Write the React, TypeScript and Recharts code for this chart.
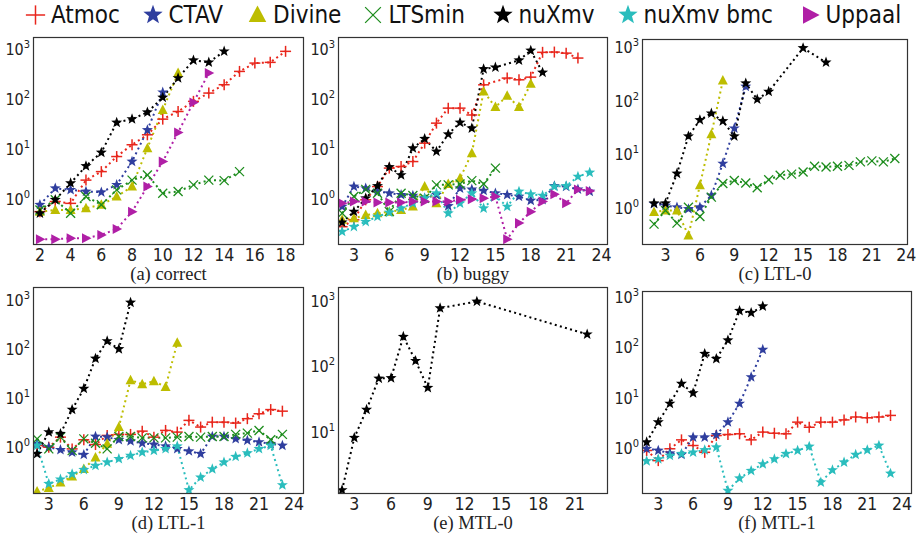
import React from "react";
import { Line, LineChart, XAxis, YAxis } from "recharts";

type Pt = [number, number];

// (a) correct
const correctAtmoc: Pt[] = [[2, 0.54], [3, 0.86], [4, 0.79], [5, 2.3], [6, 3.4], [7, 6.8], [8, 11.7], [9, 18.5], [10, 38], [11, 54], [12, 86], [13, 126], [14, 185], [15, 341], [16, 500], [17, 517], [18, 858]];
const correctCtav: Pt[] = [[2, 0.74], [3, 1.58], [4, 1.47], [5, 1.36], [6, 1.32], [7, 1.85], [8, 5.4], [9, 23], [10, 130]];
const correctDivine: Pt[] = [[2, 0.54], [3, 0.58], [4, 0.58], [5, 0.63], [6, 0.74], [7, 1.08], [8, 1.71], [9, 10], [10, 58], [11, 316]];
const correctLtsmin: Pt[] = [[2, 0.58], [3, 0.93], [4, 0.5], [5, 1.08], [6, 0.74], [7, 1.47], [8, 2.3], [9, 2.9], [10, 1.26], [11, 1.36], [12, 1.85], [13, 2.3], [14, 2.25], [15, 3.4]];
const correctNuxmv: Pt[] = [[2, 0.5], [3, 0.93], [4, 2.0], [5, 4.4], [6, 8.2], [7, 32.5], [8, 38], [9, 52], [10, 103], [11, 251], [12, 570], [13, 517], [14, 858]];
const correctUppaal: Pt[] = [[2, 0.152], [3, 0.152], [4, 0.159], [5, 0.159], [6, 0.185], [7, 0.244], [8, 0.54], [9, 1.71], [10, 5.4], [11, 20.6], [12, 82], [13, 316]];

// (b) buggy
const buggyAtmoc: Pt[] = [[2, 0.27], [3, 0.37], [4, 0.93], [5, 1.71], [6, 4.0], [7, 4.3], [8, 5.4], [9, 12.6], [10, 31.6], [11, 63], [12, 63], [13, 46], [14, 184], [16, 251], [17, 232], [18, 262], [19, 820], [20, 830], [21, 790], [22, 630]];
const buggyCtav: Pt[] = [[2, 0.68], [3, 1.71], [4, 1.58], [5, 1.36], [6, 1.26], [7, 1.17], [8, 1.13], [9, 1.0], [10, 1.17], [11, 0.7], [12, 1.58], [13, 1.5], [14, 1.42], [15, 1.26], [16, 1.17], [17, 1.08], [18, 0.9], [19, 0.93], [20, 1.76], [21, 1.71], [22, 1.5], [23, 1.36]];
const buggyDivine: Pt[] = [[2, 0.37], [3, 0.4], [4, 0.46], [5, 0.5], [6, 0.54], [7, 0.58], [8, 0.68], [9, 1.71], [10, 0.79], [11, 1.93], [12, 2.5], [13, 7.9], [14, 136], [15, 66], [16, 111], [17, 66], [18, 193]];
const buggyLtsmin: Pt[] = [[2, 0.5], [3, 1.08], [4, 1.5], [5, 1.26], [6, 0.54], [7, 1.26], [8, 1.13], [9, 1.0], [10, 1.85], [11, 1.85], [12, 1.93], [13, 2.25], [14, 1.93], [15, 4.0]];
const buggyNuxmv: Pt[] = [[2, 0.33], [3, 0.54], [4, 1.0], [5, 1.76], [6, 4.2], [7, 2.9], [8, 10], [9, 15.4], [10, 8.6], [11, 19], [12, 32.5], [13, 25], [14, 380], [15, 410], [17, 570], [18, 890], [19, 325]];
const buggyBmc: Pt[] = [[2, 0.215], [3, 0.27], [4, 0.34], [5, 0.43], [6, 0.52], [7, 0.63], [8, 0.79], [9, 1.0], [10, 1.26], [11, 0.5], [12, 0.79], [13, 1.26], [14, 0.63], [15, 1.1], [16, 0.68], [17, 1.36], [18, 1.2], [19, 1.13], [20, 1.71], [21, 1.76], [22, 2.7], [23, 3.26]];
const buggyUppaal: Pt[] = [[2, 0.79], [3, 0.86], [4, 0.86], [5, 0.82], [6, 0.82], [7, 0.82], [8, 0.86], [9, 0.86], [10, 0.86], [11, 0.86], [12, 0.93], [13, 0.95], [14, 1.0], [15, 1.08], [16, 0.152], [17, 0.32], [18, 0.54], [19, 0.86], [20, 1.2], [21, 0.79], [22, 1.5], [23, 1.4]];

// (c) LTL-0
const ltl0Ctav: Pt[] = [[2, 1.17], [3, 1.09], [4, 1.01], [5, 0.94], [6, 1.01], [7, 1.68], [8, 6.6], [9, 30], [10, 181]];
const ltl0Divine: Pt[] = [[2, 0.82], [3, 0.88], [4, 0.88], [5, 0.3], [6, 2.6], [7, 23.3], [8, 233]];
const ltl0Ltsmin: Pt[] = [[2, 0.49], [3, 0.88], [4, 0.51], [5, 1.01], [6, 0.68], [7, 1.56], [8, 2.8], [9, 3.2], [10, 2.86], [11, 2.34], [12, 3.3], [13, 4.0], [14, 4.2], [15, 4.6], [16, 5.9], [17, 5.7], [18, 5.9], [19, 6.1], [20, 7.1], [21, 7.4], [22, 7.1], [23, 8.2]];
const ltl0Nuxmv: Pt[] = [[2, 1.2], [3, 1.2], [4, 4.3], [5, 21.4], [6, 43], [7, 57], [8, 41], [9, 21.4], [10, 208], [11, 104], [12, 145], [15, 944], [17, 510]];

// (d) LTL-1
const ltl1Atmoc: Pt[] = [[2, 1.03], [3, 0.95], [4, 1.53], [5, 0.88], [6, 1.35], [7, 1.08], [8, 1.66], [9, 1.74], [10, 1.74], [11, 2.03], [12, 1.53], [13, 2.1], [14, 1.94], [15, 3.37], [16, 2.46], [17, 3.1], [18, 3.1], [19, 2.97], [20, 3.65], [21, 4.6], [22, 5.6], [23, 5.2]];
const ltl1Ctav: Pt[] = [[2, 1.12], [3, 0.95], [4, 0.84], [5, 0.75], [6, 0.67], [7, 1.58], [8, 1.53], [9, 1.35], [10, 1.27], [11, 1.15], [12, 1.08], [13, 1.0], [14, 0.88], [15, 0.79], [16, 0.7], [17, 1.58], [18, 1.58], [19, 1.41], [20, 1.31], [21, 1.21], [22, 1.12], [23, 1.03]];
const ltl1Divine: Pt[] = [[2, 0.119], [3, 0.14], [4, 0.18], [5, 0.24], [6, 0.34], [7, 0.59], [8, 1.12], [9, 2.46], [10, 22.4], [11, 18.5], [12, 21.3], [13, 16.3], [14, 130]];
const ltl1Ltsmin: Pt[] = [[2, 1.41], [3, 0.88], [4, 1.53], [5, 0.81], [6, 1.41], [7, 1.15], [8, 0.88], [9, 1.58], [10, 1.58], [11, 1.48], [12, 1.48], [13, 1.48], [14, 1.53], [15, 1.58], [16, 1.53], [17, 1.58], [18, 1.58], [19, 1.74], [20, 1.85], [21, 2.1], [22, 1.35], [23, 1.74]];
const ltl1Nuxmv: Pt[] = [[2, 0.7], [3, 1.94], [4, 1.79], [5, 5.6], [6, 15], [7, 62], [8, 141], [9, 97], [10, 866]];
const ltl1Bmc: Pt[] = [[2, 1.03], [3, 0.17], [4, 0.21], [5, 0.27], [6, 0.33], [7, 0.4], [8, 0.47], [9, 0.55], [10, 0.64], [11, 0.75], [12, 0.81], [13, 0.88], [14, 1.0], [15, 0.127], [16, 0.23], [17, 0.34], [18, 0.47], [19, 0.61], [20, 0.72], [21, 0.88], [22, 1.03], [23, 0.16]];

// (e) MTL-0
const mtl0Nuxmv: Pt[] = [[2, 1.25], [3, 7.9], [4, 21.3], [5, 64], [6, 65], [7, 279], [8, 119], [9, 46], [10, 762], [13, 966], [22, 303]];

// (f) MTL-1
const mtl1Atmoc: Pt[] = [[2, 0.86], [3, 0.54], [4, 0.93], [5, 1.4], [6, 1.08], [7, 0.79], [8, 1.71], [9, 1.79], [10, 1.85], [11, 1.4], [12, 2.0], [13, 1.9], [14, 1.85], [15, 3.16], [16, 2.5], [17, 3.16], [18, 3.16], [19, 3.5], [20, 4.0], [21, 3.86], [22, 4.0], [23, 4.3]];
const mtl1Ctav: Pt[] = [[2, 0.93], [3, 0.86], [4, 0.76], [5, 0.71], [6, 1.58], [7, 1.58], [8, 1.76], [9, 3.16], [10, 7.4], [11, 25], [12, 88]];
const mtl1Nuxmv: Pt[] = [[2, 1.26], [3, 3.16], [4, 7.4], [5, 18.5], [6, 12], [7, 73], [8, 58], [9, 136], [10, 525], [11, 478], [12, 646]];
const mtl1Bmc: Pt[] = [[2, 0.53], [3, 0.58], [4, 0.68], [5, 0.74], [6, 0.79], [7, 0.88], [8, 1.0], [9, 0.136], [10, 0.24], [11, 0.34], [12, 0.46], [13, 0.58], [14, 0.74], [15, 0.86], [16, 1.03], [17, 0.2], [18, 0.35], [19, 0.5], [20, 0.71], [21, 0.88], [22, 1.08], [23, 0.3]];

const ticksEven = [2, 4, 6, 8, 10, 12, 14, 16, 18];
const ticksThree = [3, 6, 9, 12, 15, 18, 21, 24];
const ticksThreeShort = [3, 6, 9, 12, 15, 18, 21];
const decades = [1, 10, 100, 1000];

const SERIES = [
  { name: "Atmoc", color: "#e8261c", marker: "plus" },
  { name: "CTAV", color: "#2f3e9e", marker: "star" },
  { name: "Divine", color: "#bdbd00", marker: "tri" },
  { name: "LTSmin", color: "#1c8c1c", marker: "x" },
  { name: "nuXmv", color: "#000000", marker: "star" },
  { name: "nuXmv bmc", color: "#2abdbd", marker: "star" },
  { name: "Uppaal", color: "#b01fa6", marker: "tright" },
];

const TICK_FONT = "'DejaVu Sans Condensed', 'DejaVu Sans', sans-serif";
const SERIF = "'Liberation Serif', 'DejaVu Serif', serif";

const panels = [
  { caption: "(a) correct", left: 33, top: 37, w: 271, h: 208, x: [1.55, 19.2], xTicks: ticksEven, y: [-0.934, 3.22], capY: 280,
    lines: { Atmoc: correctAtmoc, CTAV: correctCtav, Divine: correctDivine, LTSmin: correctLtsmin, nuXmv: correctNuxmv, Uppaal: correctUppaal } },
  { caption: "(b) buggy", left: 338, top: 37, w: 270, h: 208, x: [1.65, 24.55], xTicks: ticksThree, y: [-0.934, 3.22], capY: 280,
    lines: { Atmoc: buggyAtmoc, CTAV: buggyCtav, Divine: buggyDivine, LTSmin: buggyLtsmin, nuXmv: buggyNuxmv, "nuXmv bmc": buggyBmc, Uppaal: buggyUppaal } },
  { caption: "(c) LTL-0", left: 642, top: 39, w: 266, h: 206, x: [0.95, 24.15], xTicks: ticksThree, y: [-0.7, 3.144], capY: 280,
    lines: { CTAV: ltl0Ctav, Divine: ltl0Divine, LTSmin: ltl0Ltsmin, nuXmv: ltl0Nuxmv } },
  { caption: "(d) LTL-1", left: 33, top: 287, w: 271, h: 207, x: [1.65, 24.85], xTicks: ticksThree, y: [-0.978, 3.255], capY: 529,
    lines: { Atmoc: ltl1Atmoc, CTAV: ltl1Ctav, Divine: ltl1Divine, LTSmin: ltl1Ltsmin, nuXmv: ltl1Nuxmv, "nuXmv bmc": ltl1Bmc } },
  { caption: "(e) MTL-0", left: 338, top: 287, w: 270, h: 207, x: [1.67, 23.7], xTicks: ticksThreeShort, y: [0.037, 3.206], capY: 529,
    lines: { nuXmv: mtl0Nuxmv } },
  { caption: "(f) MTL-1", left: 642, top: 291, w: 270, h: 203, x: [1.6, 24.85], xTicks: ticksThree, y: [-0.933, 3.114], capY: 529,
    lines: { Atmoc: mtl1Atmoc, CTAV: mtl1Ctav, nuXmv: mtl1Nuxmv, "nuXmv bmc": mtl1Bmc } },
];

const starPoints = (cx: number, cy: number, R: number, r: number) => {
  const pts: string[] = [];
  for (let i = 0; i < 10; i++) {
    const a = -Math.PI / 2 + (i * Math.PI) / 5;
    const rad = i % 2 === 0 ? R : r;
    pts.push(`${cx + rad * Math.cos(a)},${cy + rad * Math.sin(a)}`);
  }
  return pts.join(" ");
};

const Marker = ({ kind, cx, cy, color, k = 1 }: any) => {
  if (cx == null || cy == null) return null;
  if (kind === "plus") {
    const a = 5.5 * k;
    return (
      <g stroke={color} strokeWidth={1.5}>
        <line x1={cx - a} y1={cy} x2={cx + a} y2={cy} />
        <line x1={cx} y1={cy - a} x2={cx} y2={cy + a} />
      </g>
    );
  }
  if (kind === "x") {
    const a = 4.5 * k;
    return (
      <g stroke={color} strokeWidth={1.3}>
        <line x1={cx - a} y1={cy - a} x2={cx + a} y2={cy + a} />
        <line x1={cx - a} y1={cy + a} x2={cx + a} y2={cy - a} />
      </g>
    );
  }
  if (kind === "star") return <polygon points={starPoints(cx, cy, 5.8 * k, 2.4 * k)} fill={color} />;
  if (kind === "tri") {
    return <polygon points={`${cx},${cy - 5.5 * k} ${cx - 5 * k},${cy + 4 * k} ${cx + 5 * k},${cy + 4 * k}`} fill={color} />;
  }
  return <polygon points={`${cx + 5.5 * k},${cy} ${cx - 4 * k},${cy - 5 * k} ${cx - 4 * k},${cy + 5 * k}`} fill={color} />;
};

const YTick = ({ y, payload }: any) => {
  const e = Math.round(Math.log10(payload.value));
  return (
    <text x={37} y={y + 6.5} textAnchor="end" fontFamily={TICK_FONT} fontSize={16} fill="#222">
      10<tspan dy={-7} fontSize={11}>{e}</tspan>
    </text>
  );
};

const Panel = ({ p }: any) => {
  const lo = Math.pow(10, p.y[0]);
  const hi = Math.pow(10, p.y[1]);
  const yTicks = decades.filter((t) => t >= lo && t <= hi);
  const xLabelY = 10 + p.h + 16;
  return (
    <div style={{ position: "absolute", left: p.left - 40, top: p.top - 10 }}>
      <LineChart width={p.w + 50} height={p.h + 40} margin={{ top: 10, right: 10, bottom: 0, left: 0 }}>
        <XAxis
          type="number"
          dataKey="x"
          domain={p.x}
          allowDataOverflow
          ticks={p.xTicks}
          axisLine={false}
          tickLine={false}
          height={30}
          tick={({ x, payload }: any) => (
            <text x={x} y={xLabelY} textAnchor="middle" fontFamily={TICK_FONT} fontSize={17.5} fill="#222">
              {payload.value}
            </text>
          )}
        />
        <YAxis
          type="number"
          scale="log"
          domain={[lo, hi]}
          allowDataOverflow
          ticks={yTicks}
          axisLine={false}
          tickLine={false}
          width={40}
          tick={YTick}
        />
        {SERIES.filter((s) => p.lines[s.name]).map((s) => (
          <Line
            key={s.name}
            data={p.lines[s.name].map(([x, y]: Pt) => ({ x, y }))}
            dataKey="y"
            stroke={s.color}
            strokeWidth={2}
            strokeDasharray="2 3.3"
            dot={(d: any) => <Marker key={`${s.name}-${d.index}`} kind={s.marker} cx={d.cx} cy={d.cy} color={s.color} />}
            activeDot={false}
            isAnimationActive={false}
          />
        ))}
      </LineChart>
    </div>
  );
};

const legendMarkerX = [35.5, 153, 257.5, 373, 503, 628, 810];

export default function App() {
  return (
    <div style={{ position: "absolute", left: 0, top: 0, width: 922, height: 540, background: "#fff" }}>
      {panels.map((p) => (
        <Panel key={p.caption} p={p} />
      ))}
      <svg width={922} height={540} style={{ position: "absolute", left: 0, top: 0, pointerEvents: "none" }}>
        {SERIES.map((s, i) => (
          <g key={s.name}>
            <Marker kind={s.marker} cx={legendMarkerX[i]} cy={15} color={s.color} k={1.75} />
            <text x={legendMarkerX[i] + 15.5} y={23} fontFamily={TICK_FONT} fontSize={24} fill="#111">
              {s.name}
            </text>
          </g>
        ))}
        {panels.map((p) => (
          <g key={p.caption}>
            <rect x={p.left + 0.5} y={p.top + 0.5} width={p.w - 1} height={p.h - 1} fill="none" stroke="#333" strokeWidth={1.2} />
            <text x={p.left + p.w / 2} y={p.capY} textAnchor="middle" fontFamily={SERIF} fontSize={18.5} fill="#222">
              {p.caption}
            </text>
          </g>
        ))}
      </svg>
    </div>
  );
}
